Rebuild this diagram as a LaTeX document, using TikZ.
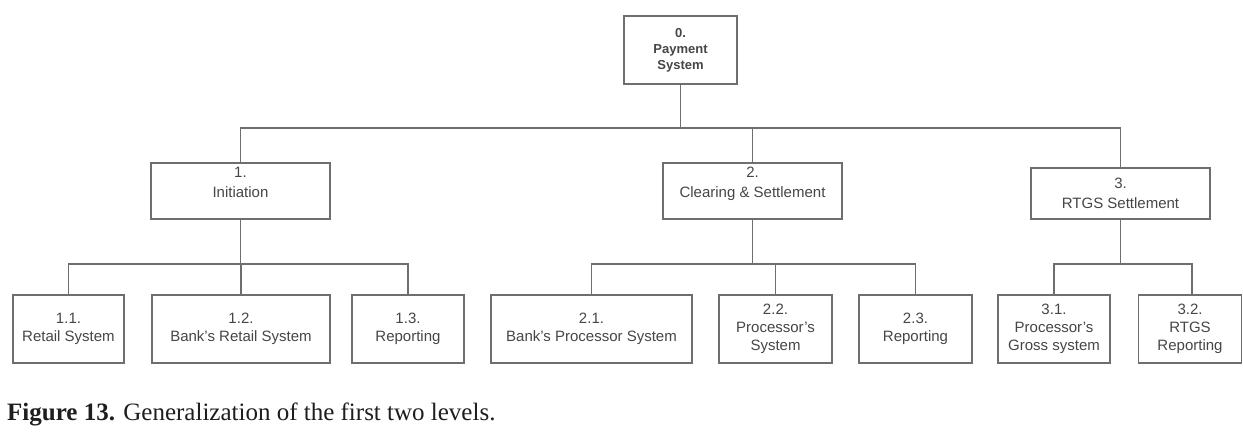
\documentclass[tikz,border=0pt]{standalone}
\usepackage{fontspec}
\setmainfont{Liberation Serif}
\setsansfont{Liberation Sans}
\definecolor{linegray}{RGB}{110,110,110}
\definecolor{textgray}{RGB}{70,70,70}
\definecolor{captext}{RGB}{30,30,30}
\begin{document}
\begin{tikzpicture}[x=1pt,y=-1pt,
  box/.style={draw=linegray, line width=1.8pt, rectangle, inner sep=0pt, align=center,
    text=textgray, font=\sffamily\fontsize{15}{18}\selectfont},
  lvlone/.style={box, minimum width=179pt, minimum height=56pt, font=\sffamily\fontsize{15}{20}\selectfont},
  lvltwo/.style={box, minimum height=68pt},
  rootbox/.style={box, minimum width=113pt, minimum height=68pt, font=\sffamily\bfseries\fontsize{13}{16}\selectfont},
  conn/.style={draw=linegray, line width=1.8pt}
]
\useasboundingbox[fill=white] (0,0) rectangle (1243,444);

\node[rootbox] (root) at (680.5,50) {0.\\Payment\\System};

\node[lvlone] (n1) at (240.5,191) {1.\\Initiation\\[-2pt]\mbox{}};
\node[lvlone] (n2) at (752.5,191) {2.\\Clearing \& Settlement\\[-2pt]\mbox{}};
\node[lvlone, minimum height=51pt] (n3) at (1120.5,193.5) {3.\\RTGS Settlement};

\node[lvltwo, minimum width=111pt] (n11) at (68.5,329) {1.1.\\Retail System};
\node[lvltwo, minimum width=178pt] (n12) at (241,329) {1.2.\\Bank's Retail System};
\node[lvltwo, minimum width=112pt] (n13) at (408,329) {1.3.\\Reporting};

\node[lvltwo, minimum width=201pt] (n21) at (591.5,329) {2.1.\\Bank's Processor System};
\node[lvltwo, minimum width=113pt] (n22) at (775.5,329) {2.2.\\Processor's\\System};
\node[lvltwo, minimum width=113pt] (n23) at (915.5,329) {2.3.\\Reporting};

\node[lvltwo, minimum width=112pt] (n31) at (1054,329) {3.1.\\Processor's\\Gross system};
\node[lvltwo, minimum width=103pt] (n32) at (1190,329) {3.2.\\RTGS\\Reporting};

\draw[conn] (root.south) -- ++(0,43) -| (n1.north);
\draw[conn] (root.south) -- ++(0,43) -| (n2.north);
\draw[conn] (root.south) -- ++(0,43) -| (n3.north);

\draw[conn] (n1.south) -- ++(0,44) -| (n11.north);
\draw[conn] (n1.south) -- ++(0,44) -| (n12.north);
\draw[conn] (n1.south) -- ++(0,44) -| (n13.north);

\draw[conn] (n2.south) -- ++(0,44) -| (n21.north);
\draw[conn] (n2.south) -- ++(0,44) -| (n22.north);
\draw[conn] (n2.south) -- ++(0,44) -| (n23.north);

\draw[conn] (n3.south) -- ++(0,44) -| (n31.north);
\draw[conn] (n3.south) -- ++(0,44) -| ([xshift=2pt]n32.north);

\node[anchor=base west, inner sep=0pt, text=captext, font=\fontsize{25}{29}\selectfont] (caption) at (7,420)
  {\textbf{Figure 13.} Generalization of the first two levels.};
\end{tikzpicture}
\end{document}
